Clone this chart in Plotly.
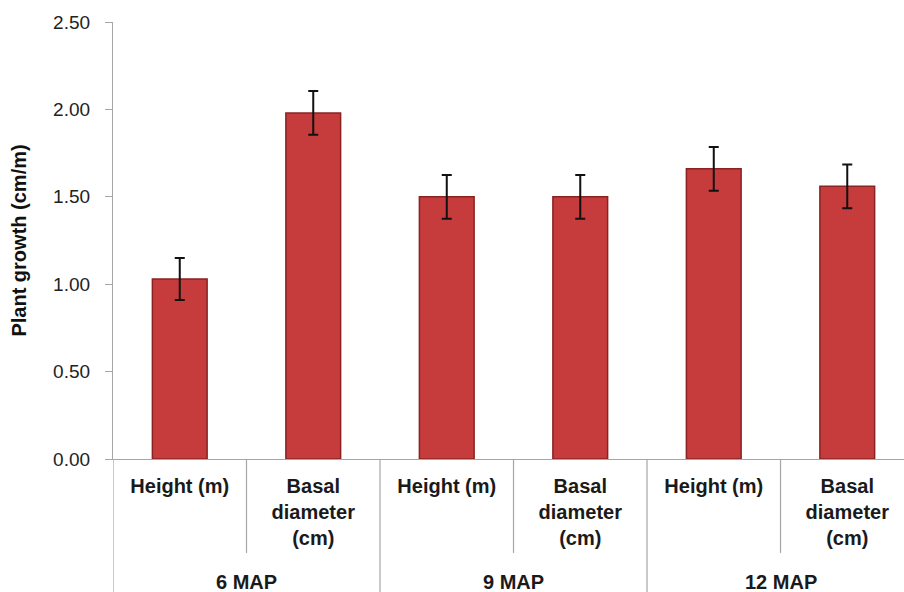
import plotly.graph_objects as go

categories = ["Height (m)", "Basal<br>diameter<br>(cm)", "Height (m)", "Basal<br>diameter<br>(cm)", "Height (m)", "Basal<br>diameter<br>(cm)"]
groups = ["6 MAP", "9 MAP", "12 MAP"]
values = [1.03, 1.98, 1.50, 1.50, 1.66, 1.56]
errors = [0.12, 0.125, 0.125, 0.125, 0.125, 0.125]
y_ticks = [0.0, 0.5, 1.0, 1.5, 2.0, 2.5]

idx = list(range(len(categories)))
FONT = "Arial, Liberation Sans"

fig = go.Figure()
fig.add_trace(go.Bar(
    x=idx, y=values, width=0.41,
    marker=dict(color="#C63C3C", line=dict(color="#8A2222", width=1.5)),
    error_y=dict(type="data", array=errors, visible=True, color="#111111", thickness=2, width=5),
))

shapes = []
for i in range(len(categories) + 1):
    xpos = i - 0.5
    long_line = (i % 2 == 0)
    shapes.append(dict(type="line", xref="x", yref="paper", x0=xpos, x1=xpos,
                       y0=0, y1=-0.31 if long_line else -0.215,
                       line=dict(color="#A6A6A6", width=1.2)))

annotations = []
for g, name in enumerate(groups):
    annotations.append(dict(x=2 * g + 0.5, y=-0.2815, xref="x", yref="paper",
                            text="<b>%s</b>" % name, showarrow=False, yanchor="middle",
                            font=dict(family=FONT, size=20, color="#1a1a1a")))
annotations.append(dict(x=-0.12, y=0.5, xref="paper", yref="paper", textangle=-90,
                        text="<b>Plant growth (cm/m)</b>", showarrow=False,
                        xanchor="center", yanchor="middle",
                        font=dict(family=FONT, size=20, color="#111111")))

fig.update_layout(
    width=904, height=592,
    margin=dict(l=113, r=0, t=22, b=133, autoexpand=False),
    paper_bgcolor="white", plot_bgcolor="white",
    showlegend=False,
    shapes=shapes, annotations=annotations,
    font=dict(family=FONT, color="#1a1a1a"),
    xaxis=dict(
        range=[-0.5, 5.425], tickmode="array", tickvals=idx,
        ticktext=["<b>%s</b>" % c for c in categories],
        tickfont=dict(size=20, family=FONT, color="#1a1a1a"),
        showline=True, linecolor="#A6A6A6", linewidth=1.2,
        ticks="", showgrid=False, zeroline=False, ticklabelstandoff=9,
        automargin=False,
    ),
    yaxis=dict(
        range=[0, 2.5], tickmode="array", tickvals=y_ticks,
        ticktext=["%.2f" % v for v in y_ticks],
        tickfont=dict(size=19, family=FONT, color="#222222"),
        showline=True, linecolor="#A6A6A6", linewidth=1.2,
        ticks="outside", ticklen=7, tickcolor="#A6A6A6", tickwidth=1.2,
        showgrid=False, zeroline=False, ticklabelstandoff=11,
        automargin=False,
    ),
)

fig.write_html("out.html", config={"displayModeBar": False},
               post_script="document.body.style.margin='0';document.body.style.overflow='hidden';")
